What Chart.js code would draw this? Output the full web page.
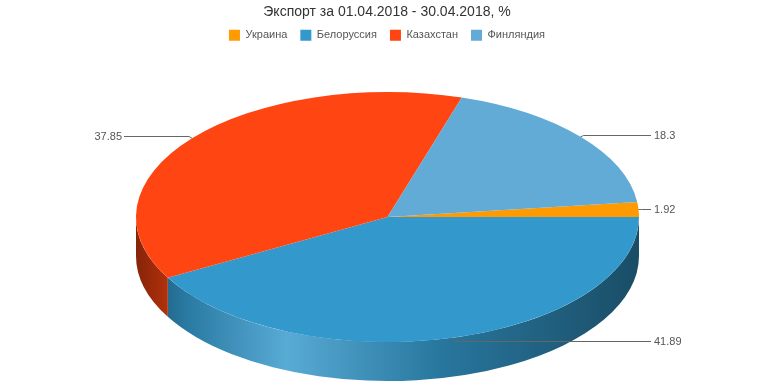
<!DOCTYPE html>
<html>
<head>
<meta charset="utf-8">
<script src="https://cdn.jsdelivr.net/npm/chart.js@4/dist/chart.umd.min.js"></script>
<style>
html,body{margin:0;padding:0;background:#fff;}
#wrap{width:774px;height:387px;}
</style>
</head>
<body>
<div id="wrap"><canvas id="c" width="774" height="387"></canvas></div>
<script>
// ---- data ----
const categories = ['Украина', 'Белоруссия', 'Казахстан', 'Финляндия'];
const values = [1.92, 41.89, 37.85, 18.3];
const colors = ['#ff9a00', '#3399cc', '#ff4511', '#62abd7'];
const titleText = 'Экспорт за 01.04.2018 - 30.04.2018, %';

// ---- 3D pie plugin (uses arc angles computed by Chart.js) ----
function shade(hex, f) {
  const n = parseInt(hex.slice(1), 16);
  let r = (n >> 16) & 255, g = (n >> 8) & 255, b = n & 255;
  if (f < 1) { r *= f; g *= f; b *= f; }
  else { const t = f - 1; r += (255 - r) * t; g += (255 - g) * t; b += (255 - b) * t; }
  return 'rgb(' + Math.round(r) + ',' + Math.round(g) + ',' + Math.round(b) + ')';
}

const pie3d = {
  id: 'pie3d',
  geom(chart, o) {
    return { cx: chart.width / 2 + o.dx, cy: o.cy, rx: o.rx, ry: o.ry, depth: o.depth };
  },
  beforeDatasetsDraw(chart, args, o) {
    const ctx = chart.ctx;
    const g = this.geom(chart, o);
    const meta = chart.getDatasetMeta(0);
    // side walls (front half only)
    meta.data.forEach((arc, i) => {
      const a0 = arc.startAngle, a1 = arc.endAngle;
      const ranges = [];
      for (let k = -1; k <= 1; k++) {
        const lo = Math.max(a0, k * 2 * Math.PI), hi = Math.min(a1, k * 2 * Math.PI + Math.PI);
        if (hi > lo) ranges.push([lo, hi]);
      }
      ranges.forEach(([lo, hi]) => {
        const grad = ctx.createLinearGradient(g.cx - g.rx, 0, g.cx + g.rx, 0);
        const c = colors[i];
        grad.addColorStop(0, shade(c, 0.52));
        grad.addColorStop(0.1, shade(c, 0.8));
        grad.addColorStop(0.3, shade(c, 1.18));
        grad.addColorStop(0.6, shade(c, 0.78));
        grad.addColorStop(1, shade(c, 0.5));
        ctx.save();
        ctx.beginPath();
        ctx.ellipse(g.cx, g.cy, g.rx, g.ry, 0, lo, hi, false);
        ctx.lineTo(g.cx + g.rx * Math.cos(hi), g.cy + g.depth + g.ry * Math.sin(hi));
        ctx.ellipse(g.cx, g.cy + g.depth, g.rx, g.ry, 0, hi, lo, true);
        ctx.closePath();
        ctx.fillStyle = grad;
        ctx.fill();
        ctx.restore();
      });
    });
    // top face: let Chart.js draw its arcs projected onto the ellipse
    const a = meta.data[0];
    ctx.save();
    ctx.translate(g.cx, g.cy);
    ctx.scale(g.rx / a.outerRadius, g.ry / a.outerRadius);
    ctx.translate(-a.x, -a.y);
  },
  afterDatasetsDraw(chart, args, o) {
    const ctx = chart.ctx;
    ctx.restore();
    const g = this.geom(chart, o);
    const meta = chart.getDatasetMeta(0);
    ctx.save();
    ctx.font = '11px "Liberation Sans", Arial, sans-serif';
    ctx.textBaseline = 'middle';
    meta.data.forEach((arc, i) => {
      const m = (arc.startAngle + arc.endAngle) / 2;
      const px = g.cx + g.rx * Math.cos(m), py = g.cy + g.ry * Math.sin(m);
      const ly = Math.round(g.cy + g.ry * 1.025 * Math.sin(m)) + 0.5;
      const right = Math.cos(m) >= 0;
      const sgn = right ? 1 : -1;
      const ex = g.cx + sgn * (g.rx + 12);
      ctx.strokeStyle = '#666';
      ctx.lineWidth = 1;
      ctx.beginPath();
      ctx.moveTo(px, py);
      ctx.lineTo(px + sgn * 3, ly);
      ctx.lineTo(ex, ly);
      ctx.stroke();
      ctx.fillStyle = '#555';
      ctx.textAlign = right ? 'left' : 'right';
      ctx.fillText(String(values[i]), right ? ex + 3 : ex - 2, ly);
    });
    ctx.restore();
  }
};

new Chart(document.getElementById('c'), {
  type: 'pie',
  data: {
    labels: categories,
    datasets: [{ data: values, backgroundColor: colors, borderWidth: 0 }]
  },
  options: {
    responsive: false,
    animation: false,
    events: [],
    rotation: 90 - values[0] / values.reduce((s, v) => s + v, 0) * 360,
    plugins: {
      pie3d: { dx: 0.5, cy: 217, rx: 251.5, ry: 125, depth: 39 },
      title: {
        display: true, text: titleText, color: '#333',
        font: { family: '"Liberation Sans", Arial, sans-serif', size: 14, weight: 'normal' },
        padding: { top: 4, bottom: -4 }
      },
      legend: {
        display: true, position: 'top',
        labels: {
          boxWidth: 11, boxHeight: 11, padding: 13, color: '#555',
          font: { family: '"Liberation Sans", Arial, sans-serif', size: 11 }
        }
      },
      tooltip: { enabled: false }
    }
  },
  plugins: [pie3d]
});
</script>
</body>
</html>
